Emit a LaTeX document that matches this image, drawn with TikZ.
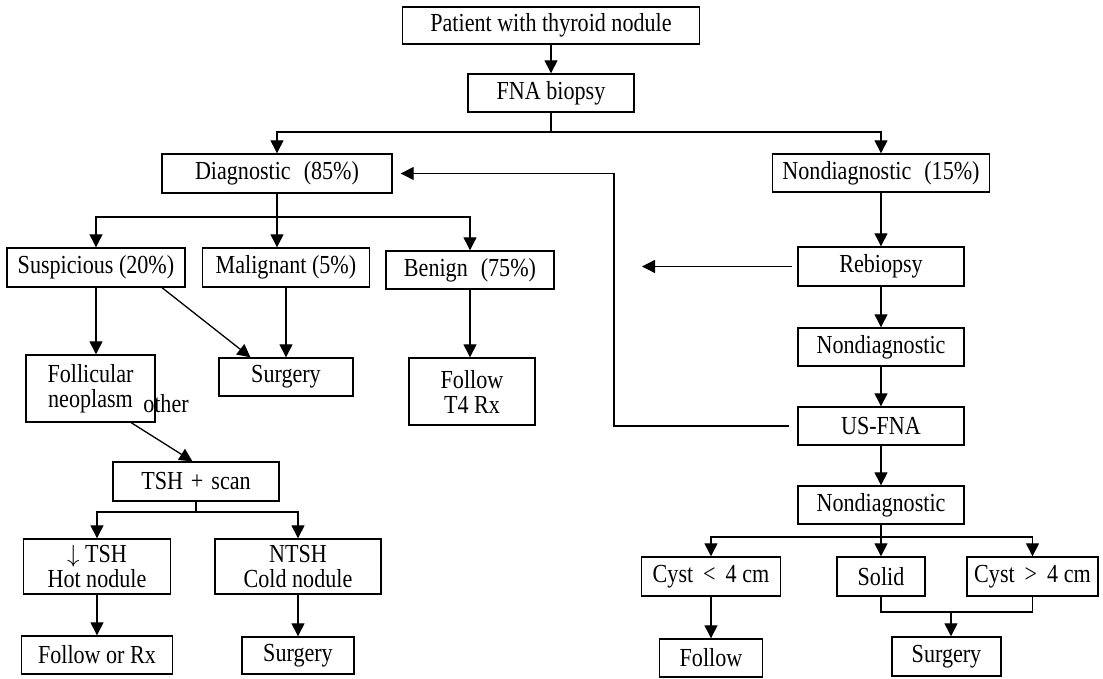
\documentclass[tikz,border=0pt]{standalone}
\usepackage{fontspec}
\setmainfont[FakeStretch=0.85]{Liberation Serif}
\usetikzlibrary{arrows.meta}

\tikzset{
  box/.style 2 args={draw, line width=1.4pt, inner sep=0pt, align=center,
    minimum width=#1, minimum height=#2, font=\fontsize{26}{25}\selectfont},
  note/.style={inner sep=0pt, font=\fontsize{26}{25}\selectfont},
  link/.style={line width=1.3pt},
  arr/.style={line width=1.3pt, -{Triangle[width=13pt,length=13pt]}},
}

\begin{document}
\begin{tikzpicture}[x=1pt, y=-1pt]
    \useasboundingbox (0,0) rectangle (1103,679);

    % Entry
    \node[box={297pt}{37pt}] (patient) at (551,25.5) {Patient with thyroid nodule};
    \node[box={166pt}{38pt}] (fna) at (551,93) {FNA biopsy};
    \node[box={230pt}{39pt}] (diag) at (277,173.5) {Diagnostic\enspace(85\%)};
    \node[box={217pt}{38pt}] (nondiag) at (881,173) {Nondiagnostic\enspace(15\%)};

    % Diagnostic results
    \node[box={178pt}{39pt}] (susp) at (96,267.5) {Suspicious (20\%)};
    \node[box={167pt}{39pt}] (malig) at (286,267.5) {Malignant (5\%)};
    \node[box={168pt}{38pt}] (benign) at (470,270) {Benign\enspace(75\%)};
    \node[box={129pt}{67pt}] (follicular) at (90.5,388.5) {Follicular\\neoplasm};
    \node[note] (other) at (166,404) {other};
    \node[box={134pt}{38pt}] (surgA) at (286,377) {Surgery};
    \node[box={126pt}{67pt}] (t4) at (472,391.5) {Follow\\T4 Rx};

    % Follicular work-up
    \node[box={166pt}{39pt}] (tsh) at (196,481.5) {TSH\hspace{8pt}+\hspace{8pt}scan};
    \node[box={147pt}{55pt}] (hot) at (97,566.5) {$\downarrow$\ TSH\\Hot nodule};
    \node[box={166pt}{55pt}] (cold) at (298,566.5) {NTSH\\Cold nodule};
    \node[box={151pt}{38pt}] (follrx) at (97,655) {Follow or Rx};
    \node[box={112pt}{37pt}] (surgB) at (298,655.5) {Surgery};

    % Nondiagnostic path
    \node[box={166pt}{39pt}] (rebiopsy) at (881,266.5) {Rebiopsy};
    \node[box={166pt}{38pt}] (nondiagB) at (881,347) {Nondiagnostic};
    \node[box={166pt}{38pt}] (usfna) at (881,426) {US-FNA};
    \node[box={166pt}{38pt}] (nondiagC) at (881,505) {Nondiagnostic};
    \node[box={139pt}{39pt}] (cystA) at (711,576.5) {Cyst\hspace{10pt}<\hspace{10pt}4 cm};
    \node[box={88pt}{39pt}] (solid) at (881,576.5) {Solid};
    \node[box={131pt}{39pt}] (cystB) at (1032.5,576.5) {Cyst\hspace{10pt}>\hspace{10pt}4 cm};
    \node[box={103pt}{38pt}] (follow) at (711,658) {Follow};
    \node[box={109pt}{39pt}] (surgC) at (946.5,656.5) {Surgery};

    % Branch points
    \coordinate (split1) at (551,132);
    \coordinate (split2) at (277,217);
    \coordinate (split3) at (196,512);
    \coordinate (split4) at (881,537);
    \coordinate (join) at (951,612);
    \coordinate (rebTip) at (642,266.5);
    \coordinate (loopx) at (614,424);

    % Connectors
    \draw[arr] (patient) -- (fna);
    \draw[link] (fna) -- (split1);
    \draw[arr] (split1) -| (diag);
    \draw[arr] (split1) -| (nondiag);
    \draw[link] (diag) -- (split2);
    \draw[arr] (split2) -| (susp);
    \draw[arr] (split2) -- (split2 |- malig.north);
    \draw[arr] (split2) -| (benign);
    \draw[arr] (susp) -- (susp |- follicular.north);
    \draw[arr] (susp.-17.5) -- (surgA.151.5);
    \draw[arr] (malig) -- (malig |- surgA.north);
    \draw[arr] (benign) -- (benign |- t4.north);
    \draw[arr] (follicular.-40) -- (tsh.100);
    \draw[link] (tsh) -- (split3);
    \draw[arr] (split3) -| (hot);
    \draw[arr] (split3) -| (cold);
    \draw[arr] (hot) -- (hot |- follrx.north);
    \draw[arr] (cold) -- (cold |- surgB.north);

    \draw[arr] (nondiag) -- (rebiopsy);
    \draw[arr, shorten <=5pt] (rebiopsy.west) -- (rebTip);
    \draw[arr] (rebiopsy) -- (nondiagB);
    \draw[arr] (nondiagB) -- (usfna);
    \draw[arr] (usfna) -- (nondiagC);
    \draw[arr, shorten <=8pt, shorten >=8pt] (usfna.west) -- (usfna.west -| loopx) |- (diag.east);
    \draw[link] (nondiagC) -- (split4);
    \draw[arr] (split4) -| (cystA);
    \draw[arr] (split4) -- (solid);
    \draw[arr] (split4) -| (cystB);
    \draw[arr] (cystA) -- (follow);
    \draw[link] (solid.south) |- (join) -| (cystB.south);
    \draw[arr] (join) -- (join |- surgC.north);
\end{tikzpicture}
\end{document}
